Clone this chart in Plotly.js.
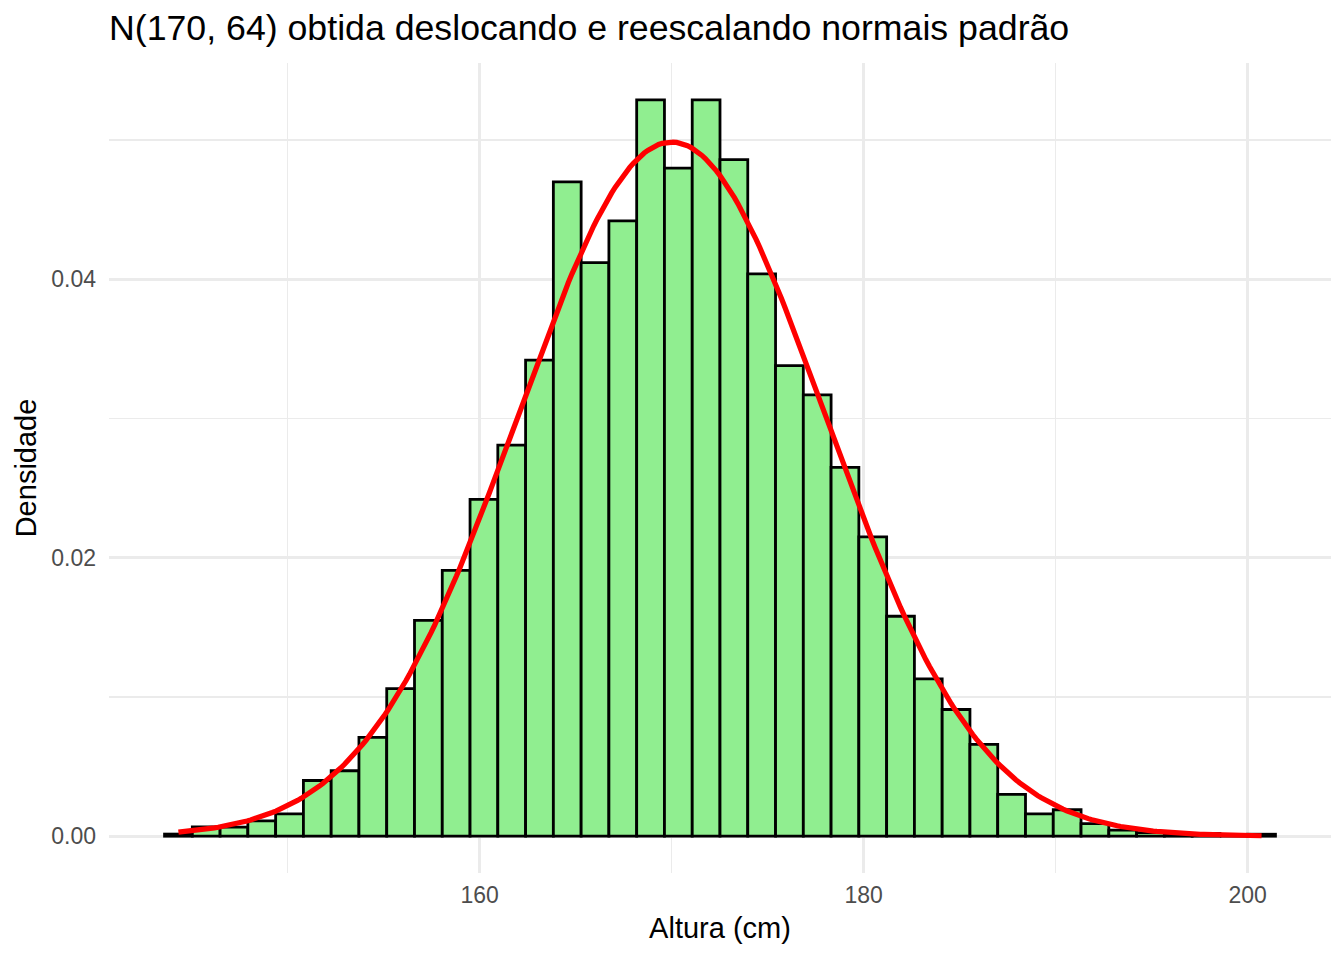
<!DOCTYPE html>
<html>
<head>
<meta charset="utf-8">
<script src="https://cdn.plot.ly/plotly-3.0.1.min.js"></script>
<style>html,body{margin:0;padding:0;background:#fff;}#chart{width:1344px;height:960px;}</style>
</head>
<body>
<div id="chart"></div>
<script>
// Histogram: 40 bins, first bin starts at binStart, each of width binWidth
const binStart = 143.59;
const binWidth = 1.4464;
const densities = [
  0.00015, 0.00067, 0.00065, 0.0011, 0.0016,
  0.0040, 0.0047, 0.0071, 0.0106, 0.0155,
  0.0191, 0.0242, 0.0281, 0.0342, 0.0470,
  0.0412, 0.0442, 0.0529, 0.0480, 0.0529,
  0.0486, 0.0404, 0.0338, 0.0317, 0.0265,
  0.0215, 0.0158, 0.0113, 0.0091, 0.0066,
  0.0030, 0.0016, 0.0019, 0.0009, 0.00043,
  0.00026, 0.0002, 0.0002, 0.0, 0.00014
];
// Theoretical density N(170, 64)
const mu = 170;
const variance = 64;
const xTicks = [160, 180, 200];
const yTicks = [0, 0.02, 0.04];
const yTickLabels = ['0.00', '0.02', '0.04'];

const binCenters = densities.map((d, i) => binStart + binWidth * (i + 0.5));
const curveFrom = binCenters[0], curveTo = binCenters[binCenters.length - 1];
const sd = Math.sqrt(variance);
const curveX = [], curveY = [];
const nPts = 301;
for (let k = 0; k < nPts; k++) {
  const x = curveFrom + (curveTo - curveFrom) * k / (nPts - 1);
  curveX.push(x);
  curveY.push(Math.exp(-0.5 * Math.pow((x - mu) / sd, 2)) / (sd * Math.sqrt(2 * Math.PI)));
}

const font = 'Liberation Sans, Arial, sans-serif';
const xmin = binStart, xmax = binStart + binWidth * densities.length;
const xpad = (xmax - xmin) * 0.05;
const ymax = Math.max(...densities);
const ypad = ymax * 0.05;

const traces = [
  {
    type: 'bar', x: binCenters, y: densities, width: binWidth,
    marker: {color: '#90EE90', line: {color: '#000000', width: 2.8}},
    hoverinfo: 'skip', showlegend: false
  },
  {
    type: 'scatter', mode: 'lines', x: curveX, y: curveY,
    line: {color: '#FF0000', width: 5.2},
    hoverinfo: 'skip', showlegend: false
  }
];

const layout = {
  width: 1344, height: 960,
  margin: {l: 109, r: 13, t: 63, b: 87},
  paper_bgcolor: '#ffffff', plot_bgcolor: '#ffffff',
  bargap: 0,
  font: {family: font, color: '#000000'},
  title: {
    text: 'N(170, 64) obtida deslocando e reescalando normais padrão',
    font: {family: font, size: 35.7, color: '#000000'},
    xref: 'paper', x: 0, xanchor: 'left',
    yref: 'container', y: 1 - 28 / 960, yanchor: 'middle'
  },
  xaxis: {
    range: [xmin - xpad, xmax + xpad],
    tickmode: 'array', tickvals: xTicks, ticktext: xTicks.map(String),
    showgrid: true, gridcolor: '#EBEBEB', gridwidth: 2.8,
    minor: {tickmode: 'array', tickvals: [150, 170, 190], showgrid: true, gridcolor: '#EBEBEB', gridwidth: 1.4, ticks: ''},
    zeroline: false, showline: false, ticks: '',
    tickfont: {family: font, size: 23, color: '#4D4D4D'},
    ticklabelstandoff: 6,
    title: {text: 'Altura (cm)', font: {family: font, size: 29, color: '#000000'}, standoff: 10}
  },
  yaxis: {
    range: [-ypad, ymax + ypad],
    tickmode: 'array', tickvals: yTicks, ticktext: yTickLabels,
    showgrid: true, gridcolor: '#EBEBEB', gridwidth: 2.8,
    minor: {tickmode: 'array', tickvals: [0.01, 0.03, 0.05], showgrid: true, gridcolor: '#EBEBEB', gridwidth: 1.4, ticks: ''},
    zeroline: false, showline: false, ticks: '',
    tickfont: {family: font, size: 23, color: '#4D4D4D'},
    ticklabelstandoff: 12,
    title: {text: 'Densidade', font: {family: font, size: 29, color: '#000000'}, standoff: 6}
  }
};

Plotly.newPlot('chart', traces, layout, {displayModeBar: false, staticPlot: true});
</script>
</body>
</html>
